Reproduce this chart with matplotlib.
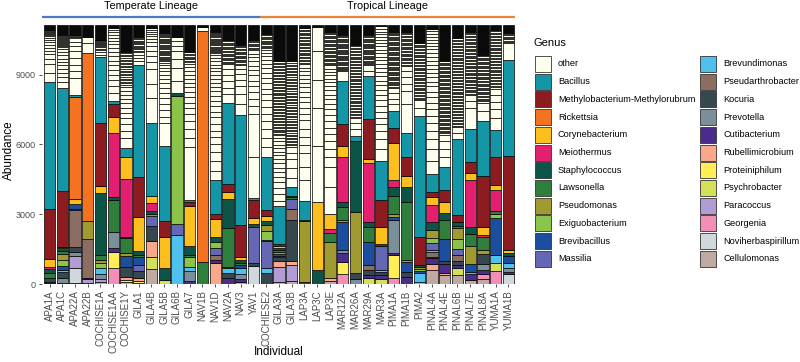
import numpy as np
import matplotlib
matplotlib.use("Agg")
import matplotlib.pyplot as plt
from matplotlib.patches import Rectangle
import matplotlib.transforms as mtransforms

plt.rcParams['font.family'] = ['Liberation Sans', 'DejaVu Sans']

samples = ['APA1A', 'APA1C', 'APA22A', 'APA22B', 'COCHISE1A', 'COCHISE1AA', 'COCHISE1Y',
           'GILA1', 'GILA4B', 'GILA5B', 'GILA6B', 'GILA7', 'NAV1B', 'NAV1D', 'NAV2A', 'NAV3', 'YAV1',
           'COCHIESE2', 'GILA3A', 'GILA3B', 'LAP3A', 'LAP3C', 'LAP3E', 'MAR12A', 'MAR26A', 'MAR29A',
           'MAR3A', 'PIMA1A', 'PIMA1B', 'PIMA2', 'PINAL4A', 'PINAL4E', 'PINAL6B', 'PINAL7E',
           'PINAL8A', 'YUMA1A', 'YUMA1B']
n_temperate = 17
depth = 11150  # reads per sample

genera = ['other', 'Bacillus', 'Methylobacterium-Methylorubrum', 'Rickettsia', 'Corynebacterium',
          'Meiothermus', 'Staphylococcus', 'Lawsonella', 'Pseudomonas', 'Exiguobacterium',
          'Brevibacillus', 'Massilia', 'Brevundimonas', 'Pseudarthrobacter', 'Kocuria', 'Prevotella',
          'Cutibacterium', 'Rubellimicrobium', 'Proteiniphilum', 'Psychrobacter', 'Paracoccus',
          'Georgenia', 'Noviherbaspirillum', 'Cellulomonas']
colors = ['#FFFFF0', '#1496A6', '#8C1C1F', '#F37321', '#FDBF1E', '#E3206F', '#0C5446', '#2F7E3B',
          '#A09B30', '#8CC34A', '#1C4EA0', '#6468B4', '#4FC1EE', '#8C6D62', '#37474F', '#7A8F9A',
          '#4B2C8C', '#F9A88B', '#FFEE58', '#D4E157', '#B29CD6', '#F38FB6', '#CFD8DC', '#BFAAA3']

# abundance per genus, temperate samples first then tropical
bacillus = [5466, 4426, 85, 0, 2803, 142, 427, 4800, 3100, 3250, 0, 70, 0, 1450, 3500, 4700, 80,
            2250, 1650, 350, 800, 0, 0, 1850, 200, 1850, 1700, 710, 1070, 5200, 780, 1000, 3270, 1420, 2350, 1180, 4120]
methylo = [2150, 2405, 0, 0, 2704, 541, 0, 1700, 0, 700, 0, 150, 0, 200, 350, 1400, 800,
           250, 80, 70, 0, 0, 0, 920, 0, 1700, 1150, 640, 780, 1220, 190, 500, 300, 470, 2200, 1170, 4030]
rickettsia = [0, 0, 4369, 7221, 0, 0, 0, 0, 0, 0, 0, 0, 9920, 0, 0, 0, 0,
              0, 0, 0, 0, 0, 0, 0, 0, 0, 0, 0, 0, 0, 0, 0, 0, 0, 0, 0, 0]
coryne = [313, 60, 230, 0, 300, 669, 925, 1500, 330, 1330, 0, 1750, 0, 800, 300, 100, 250,
          250, 70, 0, 0, 2930, 640, 500, 0, 190, 720, 1610, 500, 0, 360, 450, 0, 290, 350, 210, 150]
meiothermus = [85, 0, 0, 0, 0, 2746, 2490, 0, 330, 0, 0, 0, 0, 0, 0, 0, 0,
               0, 0, 0, 0, 0, 200, 1920, 0, 2520, 0, 280, 0, 0, 740, 0, 0, 2000, 100, 930, 0]
staphylo = [200, 100, 0, 0, 2690, 171, 60, 150, 120, 480, 130, 370, 0, 200, 1250, 150, 100,
            150, 100, 0, 50, 600, 0, 220, 3070, 210, 80, 390, 650, 80, 330, 300, 150, 300, 0, 0, 130]
lawsonella = [200, 150, 0, 0, 200, 1352, 650, 100, 0, 0, 0, 100, 960, 0, 1650, 100, 0,
              0, 80, 60, 0, 0, 370, 560, 0, 640, 0, 780, 2480, 0, 0, 850, 100, 550, 550, 130, 0]
pseudomonas = [0, 250, 0, 750, 150, 0, 100, 0, 80, 0, 0, 0, 0, 0, 80, 0, 0,
               250, 80, 0, 2600, 0, 1560, 70, 2630, 0, 0, 140, 70, 80, 350, 0, 450, 750, 150, 0, 0]
exiguo = [0, 250, 0, 0, 220, 0, 0, 0, 0, 0, 5530, 400, 0, 250, 0, 0, 0,
          400, 0, 0, 0, 0, 0, 0, 0, 0, 0, 0, 0, 100, 200, 0, 450, 0, 0, 150, 0]
brevibacillus = [0, 180, 200, 0, 0, 0, 500, 350, 0, 0, 0, 0, 0, 0, 0, 100, 0,
                 60, 80, 0, 0, 0, 0, 1200, 0, 1000, 0, 150, 430, 80, 0, 950, 0, 350, 0, 1620, 300]
massilia = [0, 0, 60, 0, 0, 0, 0, 250, 440, 0, 470, 0, 0, 300, 0, 0, 1550,
            1150, 0, 440, 0, 0, 0, 0, 0, 0, 1050, 0, 0, 0, 300, 0, 250, 0, 0, 0, 0]
brevundimonas = [0, 100, 0, 0, 250, 0, 0, 0, 0, 0, 2090, 200, 0, 0, 200, 250, 0,
                 200, 60, 0, 0, 0, 0, 0, 0, 0, 100, 0, 0, 380, 100, 0, 0, 100, 0, 330, 230]
pseudarthro = [0, 0, 1560, 1700, 0, 0, 0, 0, 0, 0, 0, 0, 0, 200, 0, 0, 0,
               0, 0, 470, 0, 0, 0, 0, 0, 220, 0, 0, 0, 0, 200, 0, 250, 0, 0, 0, 0]
kocuria = [150, 250, 220, 0, 0, 0, 400, 300, 640, 0, 0, 0, 0, 0, 200, 0, 130,
           480, 150, 1760, 100, 0, 0, 0, 250, 200, 100, 0, 250, 0, 80, 100, 200, 0, 450, 0, 0]
prevotella = [60, 200, 190, 0, 220, 683, 0, 0, 0, 0, 0, 400, 0, 0, 0, 250, 0,
              0, 0, 0, 0, 0, 0, 150, 210, 0, 0, 1400, 0, 0, 0, 0, 0, 0, 250, 0, 150]
cutibacterium = [0, 0, 0, 50, 0, 171, 0, 0, 0, 0, 0, 150, 0, 130, 270, 100, 0,
                 0, 0, 0, 0, 0, 0, 370, 0, 150, 200, 80, 280, 0, 250, 400, 100, 250, 200, 0, 70]
rubelli = [0, 0, 0, 0, 0, 0, 150, 100, 700, 0, 0, 0, 0, 920, 0, 0, 0,
           0, 250, 200, 0, 0, 120, 0, 0, 0, 0, 0, 0, 0, 250, 100, 0, 0, 0, 0, 0]
proteini = [0, 0, 0, 0, 0, 711, 80, 100, 0, 0, 0, 0, 0, 0, 0, 0, 0,
            0, 0, 0, 0, 0, 0, 500, 0, 0, 0, 1000, 0, 0, 0, 0, 0, 0, 0, 0, 0]
psychro = [0, 0, 0, 0, 0, 0, 0, 0, 520, 190, 0, 0, 0, 0, 0, 0, 0,
           0, 0, 0, 0, 0, 0, 0, 0, 245, 200, 0, 0, 0, 0, 0, 300, 0, 0, 350, 0]
paracoccus = [0, 0, 520, 150, 100, 0, 0, 0, 0, 0, 0, 0, 0, 0, 0, 0, 0,
              0, 650, 650, 0, 0, 0, 0, 0, 0, 0, 0, 0, 0, 0, 0, 0, 0, 0, 0, 0]
georgenia = [0, 0, 0, 0, 0, 672, 0, 0, 0, 0, 0, 0, 0, 0, 0, 0, 0,
             0, 0, 0, 0, 0, 0, 450, 0, 0, 0, 250, 0, 0, 0, 0, 0, 0, 200, 550, 0]
noviherba = [0, 0, 640, 0, 0, 0, 0, 0, 0, 0, 0, 0, 0, 0, 0, 0, 790,
             0, 0, 0, 0, 0, 0, 0, 0, 0, 0, 0, 0, 0, 0, 0, 0, 0, 0, 0, 450]
cellulomonas = [45, 50, 40, 50, 100, 0, 84, 50, 640, 0, 0, 0, 0, 0, 0, 100, 0,
                0, 100, 150, 0, 0, 130, 0, 0, 0, 0, 0, 0, 80, 600, 370, 400, 170, 210, 0, 0]

# individual "other" ASVs (bottom up), then the band of tiny ASVs
other_asvs = [
    [398, 385, 227, 200, 156, 128, 114, 114, 99, 100, 85],
    [242, 213, 185, 171, 171, 142, 142, 142, 142, 114, 114],
    [741, 285, 285, 285, 285, 213, 213, 142],
    [427, 284],
    [114, 100, 85, 70, 60, 50, 45, 40, 35, 30],
    [356, 285, 285, 213, 213, 213, 171, 185, 185, 171, 171, 142, 142, 114, 114, 100, 100],
    [427, 285, 285, 285, 213, 213, 213, 185, 171, 171, 171],
    [171, 142, 142, 114],
    [1096, 611, 641, 285, 285, 214, 184, 171, 143, 113, 100, 99, 86, 85],
    [950, 285, 285, 256, 256, 228, 213, 199, 185, 171, 157, 142, 128, 114],
    [498, 569, 398, 313, 213, 213, 171],
    [2277, 427, 356, 356, 285, 256, 242, 242, 228, 199, 185, 185, 171, 171, 157, 142],
    [150],
    [427, 427, 356, 356, 285, 285, 285, 285, 256, 242, 213, 213, 213, 185, 171, 171, 157, 171, 142, 142, 142, 142, 142],
    [356, 285, 285, 256, 242, 213],
    [498, 427, 356, 256, 242, 213, 171],
    [1740, 1850, 356, 313, 285, 256, 242, 228, 213, 199, 185, 171, 157, 142],
    [427, 427, 356, 356, 313, 285, 285, 256, 256, 242, 213, 213, 199, 185, 171, 157, 142, 142],
    [230, 285, 256, 242, 228, 213, 199, 185, 171, 171, 157, 157, 142, 142, 128, 128],
    [427, 427, 356, 285, 242],
    [925, 569, 569, 356, 356, 356, 356, 285, 256, 242, 213, 213, 213, 185, 171, 171, 157, 157, 157],
    [2407, 1608, 1238, 1238, 1039],
    [1138, 854, 427, 356, 356, 285, 285, 285, 256, 242, 213, 213, 213, 185, 171, 171, 157, 142, 142, 142, 142],
    [427],
    [285, 256, 228],
    [242, 228],
    [498, 427, 356, 313, 256, 256, 242, 242, 228, 213, 213, 199, 185, 185, 171, 171, 157, 157, 157,
     142, 142, 142, 142, 128, 114, 114, 114, 142],
    [285, 256, 242, 213],
    [1210, 569, 313, 285, 256, 228],
    [356, 313],
    [569, 498, 427, 356, 356, 285, 285, 285, 242, 228, 228, 199, 199, 185, 185, 171, 171, 171, 157,
     157, 142, 142, 128, 128, 114, 114, 114],
    [427, 356, 327, 285],
    [285, 242],
    [896, 313, 256],
    [427, 356],
    [498, 398, 313, 285, 285],
    [711],
]
rare_top = [10900, 10700, 10700, 0, 10500, 0, 9990, 10630, 0, 10800, 0, 9950, 0, 10846, 10490, 10280, 10500,
            10750, 9566, 9566, 10990, 0, 10846, 10700, 10280, 10700, 0, 10846, 10846, 10350, 0, 9566,
            10560, 10846, 9850, 10917, 10800]
rare_count = [8, 12, 4, 0, 4, 0, 22, 12, 0, 25, 0, 8, 0, 20, 18, 15, 8,
              12, 50, 55, 25, 0, 25, 30, 50, 25, 0, 45, 25, 40, 0, 55, 60, 45, 35, 40, 8]

abund = dict(zip(genera[1:], [bacillus, methylo, rickettsia, coryne, meiothermus, staphylo, lawsonella,
                              pseudomonas, exiguo, brevibacillus, massilia, brevundimonas, pseudarthro,
                              kocuria, prevotella, cutibacterium, rubelli, proteini, psychro, paracoccus,
                              georgenia, noviherba, cellulomonas]))
col = dict(zip(genera, colors))

fig = plt.figure(figsize=(8, 3.62), dpi=100)
ax = fig.add_axes([41.85 / 800, 78 / 362, 474.3 / 800, 260.6 / 362])

x = np.arange(len(samples))
w = 0.9
lw = 0.5
bottom = np.zeros(len(samples))
for g in genera[:0:-1]:
    vals = np.array(abund[g], dtype=float)
    m = vals > 0
    ax.bar(x[m], vals[m], w, bottom=bottom[m], color=col[g], edgecolor='black', linewidth=lw)
    bottom += vals

# other: individual ASVs, then the tail of rare ones
for i in range(len(samples)):
    b = bottom[i]
    hs, bs = [], []
    for h in other_asvs[i]:
        if b >= depth:
            break
        h = min(h, depth - b)
        hs.append(h)
        bs.append(b)
        b += h
    if rare_count[i] > 0 and rare_top[i] > b:
        step = (rare_top[i] - b) / rare_count[i]
        for k in range(rare_count[i]):
            hs.append(step)
            bs.append(b)
            b += step
    ax.bar([i] * len(hs), hs, w, bottom=bs, color=col['other'], edgecolor='black', linewidth=lw)
    if b < depth:
        ax.bar(i, depth - b, w, bottom=b, color='#0a0a0a', edgecolor='black', linewidth=lw)

ax.set_xlim(-0.6, len(samples) - 0.4)
ax.set_ylim(0, 11200)
for s in ax.spines.values():
    s.set_visible(False)
ax.set_yticks([0, 3000, 6000, 9000])
ax.set_xticks(x)
ax.set_xticklabels(samples, rotation=90)
ax.tick_params(axis='both', colors='#333333', labelcolor='#4D4D4D', length=2.5, width=0.6, pad=2)
ax.tick_params(axis='x', labelsize=7)
ax.tick_params(axis='y', labelsize=6.5, pad=2.2)

# lineage bars
trans = mtransforms.blended_transform_factory(ax.transData, ax.transAxes)
ax.plot([-0.6, n_temperate - 0.5], [1.023, 1.023], transform=trans, color='#4C7BC4', lw=1.6,
        clip_on=False, solid_capstyle='butt')
ax.plot([n_temperate - 0.5, len(samples) - 0.5], [1.023, 1.023], transform=trans, color='#E8863D',
        lw=1.6, clip_on=False, solid_capstyle='butt')
ax.text((n_temperate - 0.5 - 0.6) / 2, 1.065, 'Temperate Lineage', transform=trans, ha='center',
        va='center', fontsize=7.8)
ax.text((n_temperate - 0.5 + len(samples) - 0.5) / 2, 1.065, 'Tropical Lineage', transform=trans,
        ha='center', va='center', fontsize=7.8)

fig.text(8.5 / 800, 1 - 150 / 362, 'Abundance', rotation=90, ha='center', va='center', fontsize=8.5)
fig.text(279 / 800, 1 - 352 / 362, 'Individual', ha='center', va='center', fontsize=8.5)

# legend
fig.text(534 / 800, 1 - 43 / 362, 'Genus', ha='left', va='center', fontsize=8)
for k, g in enumerate(genera):
    cx = 535 if k < 12 else 700
    cy = 56 + (k % 12) * 17.7
    fig.patches.append(Rectangle((cx / 800, 1 - (cy + 16) / 362), 16 / 800, 16 / 362,
                                 transform=fig.transFigure, facecolor=col[g], edgecolor='#333333',
                                 linewidth=0.6))
    fig.text((cx + 23) / 800, 1 - (cy + 8) / 362, g, ha='left', va='center', fontsize=6.6)

fig.savefig('out.png', dpi=100)
